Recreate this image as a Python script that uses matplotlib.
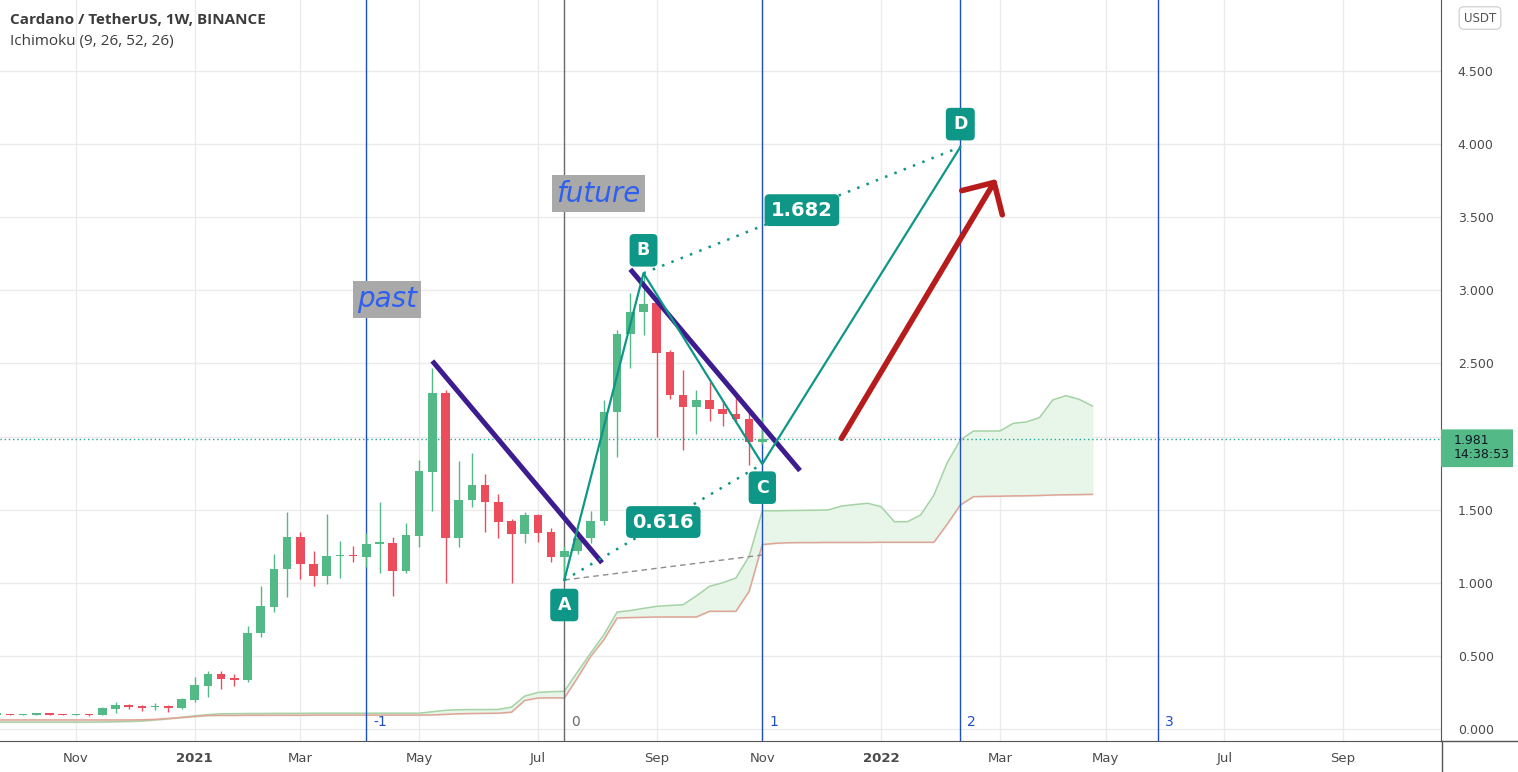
import numpy as np
import pandas as pd
import matplotlib
matplotlib.use('Agg')
import matplotlib.pyplot as plt
import matplotlib.dates as mdates
import matplotlib.patches as mpatches
from matplotlib.lines import Line2D
from matplotlib.transforms import blended_transform_factory

# ---- weekly candles ADA/USDT (Binance) ----
candle_dates = pd.date_range('2020-09-21', '2021-11-01', freq='7D')
opens = [0.098, 0.100, 0.096, 0.099, 0.100, 0.098, 0.096, 0.098, 0.096, 0.139,
         0.164, 0.157, 0.148, 0.157, 0.146, 0.198, 0.296, 0.376, 0.347, 0.335,
         0.654, 0.837, 1.096, 1.311, 1.126, 1.049, 1.180, 1.190, 1.178, 1.263,
         1.270, 1.083, 1.322, 1.760, 2.296, 1.308, 1.569, 1.671, 1.550, 1.420,
         1.331, 1.461, 1.347, 1.178, 1.219, 1.308, 1.420, 2.166, 2.699, 2.850,
         2.911, 2.577, 2.284, 2.200, 2.250, 2.186, 2.154, 2.118, 1.963]
highs = [0.102, 0.103, 0.104, 0.103, 0.106, 0.102, 0.101, 0.103, 0.150, 0.187,
         0.172, 0.162, 0.180, 0.163, 0.210, 0.358, 0.397, 0.399, 0.374, 0.706,
         0.978, 1.197, 1.482, 1.345, 1.217, 1.470, 1.286, 1.250, 1.343, 1.555,
         1.315, 1.411, 1.840, 2.467, 2.318, 1.833, 1.886, 1.742, 1.607, 1.434,
         1.486, 1.470, 1.373, 1.250, 1.338, 1.493, 2.250, 2.729, 2.980, 3.117,
         2.934, 2.592, 2.455, 2.318, 2.375, 2.250, 2.296, 2.182, 2.136]
lows = [0.094, 0.094, 0.094, 0.097, 0.095, 0.093, 0.094, 0.092, 0.094, 0.107,
        0.135, 0.125, 0.130, 0.118, 0.140, 0.187, 0.221, 0.274, 0.296, 0.324,
        0.630, 0.800, 0.900, 1.024, 0.978, 0.992, 1.031, 1.140, 1.110, 1.069,
        0.910, 1.070, 1.247, 1.493, 1.000, 1.243, 1.520, 1.350, 1.304, 0.996,
        1.274, 1.281, 1.144, 1.019, 1.195, 1.270, 1.395, 1.862, 2.467, 2.695,
        1.994, 2.255, 1.908, 2.017, 2.106, 2.072, 2.100, 1.805, 1.950]
closes = [0.100, 0.096, 0.099, 0.100, 0.098, 0.096, 0.098, 0.095, 0.142, 0.164,
          0.152, 0.146, 0.157, 0.146, 0.203, 0.300, 0.374, 0.342, 0.337, 0.654,
          0.841, 1.092, 1.311, 1.126, 1.049, 1.181, 1.190, 1.180, 1.265, 1.277,
          1.083, 1.327, 1.764, 2.296, 1.308, 1.569, 1.671, 1.550, 1.418, 1.331,
          1.461, 1.343, 1.178, 1.220, 1.308, 1.420, 2.166, 2.699, 2.850, 2.907,
          2.574, 2.282, 2.204, 2.250, 2.186, 2.152, 2.118, 1.963, 1.981]

# ---- Ichimoku cloud (leading spans, shifted 26 weeks) ----
cloud_dates = pd.date_range('2020-09-21', periods=84, freq='7D')
senkou_a = [0.047, 0.047, 0.047, 0.047, 0.047, 0.047, 0.047, 0.047,
            0.048, 0.050, 0.052, 0.055, 0.062, 0.070,
            0.080, 0.090, 0.098,
            0.104, 0.105, 0.106, 0.106, 0.107, 0.107, 0.107, 0.108,
            0.108, 0.108, 0.108, 0.108, 0.108, 0.108, 0.108, 0.108,
            0.118, 0.128, 0.132, 0.133, 0.133, 0.134,
            0.150, 0.225, 0.250, 0.255,
            0.258, 0.390, 0.520, 0.645, 0.800, 0.810, 0.825, 0.839,
            0.845, 0.850, 0.910, 0.976, 1.000, 1.033, 1.180, 1.493,
            1.492, 1.494, 1.495, 1.496, 1.498, 1.525, 1.535, 1.544, 1.520,
            1.418, 1.418, 1.464, 1.600, 1.820, 1.976, 2.038, 2.038, 2.038,
            2.090, 2.100, 2.130, 2.250, 2.280, 2.255, 2.209]
senkou_b = [0.062, 0.062, 0.062, 0.062, 0.062, 0.062, 0.062, 0.062,
            0.062, 0.062, 0.062, 0.063, 0.066, 0.072,
            0.078, 0.085, 0.092,
            0.093, 0.093, 0.094, 0.094, 0.094, 0.094, 0.094, 0.095,
            0.095, 0.095, 0.095, 0.095, 0.095, 0.095, 0.095, 0.095,
            0.096, 0.100, 0.104, 0.106, 0.107, 0.108,
            0.115, 0.195, 0.212, 0.213,
            0.212, 0.350, 0.497, 0.611, 0.759, 0.762, 0.764, 0.766,
            0.766, 0.766, 0.766, 0.805, 0.805, 0.805, 0.941, 1.261,
            1.270, 1.274, 1.275, 1.275, 1.276, 1.276, 1.276, 1.276, 1.277,
            1.277, 1.277, 1.277, 1.277, 1.400, 1.532, 1.589, 1.591, 1.592,
            1.594, 1.595, 1.597, 1.600, 1.602, 1.603, 1.605]

last_price = 1.981
countdown = '14:38:53'

# ---- drawings ----
abcd_labels = ['A', 'B', 'C', 'D']
abcd_dates = ['2021-07-19', '2021-08-30', '2021-11-01', '2022-02-14']
abcd_prices = [1.019, 3.117, 1.812, 3.980]
ratio_labels = ['0.616', '1.682']
dash_end = ('2021-11-01', 1.19)

fib_dates = ['2021-04-05', '2021-07-19', '2021-11-01', '2022-02-14', '2022-05-30']
fib_labels = ['-1', '0', '1', '2', '3']

trend_lines = [(('2021-05-10', 2.517), ('2021-08-08', 1.137)),
               (('2021-08-23', 3.144), ('2021-11-21', 1.767))]
arrow_start = ('2021-12-13', 1.988)
arrow_end = ('2022-03-05', 3.761)

notes = [('past', '2021-04-16', 2.94), ('future', '2021-08-06', 3.66)]

month_ticks = ['2020-11-02', '2021-01-04', '2021-03-01', '2021-05-03', '2021-07-05',
               '2021-09-06', '2021-11-01', '2022-01-03', '2022-03-07', '2022-05-02',
               '2022-07-04', '2022-09-05']
month_labels = ['Nov', '2021', 'Mar', 'May', 'Jul', 'Sep', 'Nov', '2022', 'Mar',
                'May', 'Jul', 'Sep']
price_ticks = [0.0, 0.5, 1.0, 1.5, 2.5, 3.0, 3.5, 4.0, 4.5]
grid_prices = [0.0, 0.5, 1.0, 1.5, 2.0, 2.5, 3.0, 3.5, 4.0, 4.5]

UP, DOWN = '#53b987', '#eb4d5c'
TEAL = '#0e9786'
PURPLE = '#3d1c8f'
FIB_BLUE = '#1f4fc4'
TXT = '#4a4a4a'


def d(s):
    return mdates.date2num(pd.Timestamp(s))


W, H = 1518, 772
fig = plt.figure(figsize=(W / 100, H / 100), dpi=100)
ax = fig.add_axes([0, 31 / H, 1441 / W, 1 - 31 / H])

base = d('2021-11-01')
wk = 13.2 / 7.0   # pixels per day
ax.set_xlim(base - 762.3 / wk, base + (1441 - 762.3) / wk)
ax.set_ylim((729 - 741) / 146.22, 729 / 146.22)

# grid
for p in grid_prices:
    ax.axhline(p, color='#ebebeb', lw=1, zorder=0)
for m in month_ticks:
    ax.axvline(d(m), color='#ebebeb', lw=1, zorder=0)

# cloud
cx = mdates.date2num(cloud_dates)
sa = np.array(senkou_a)
sb = np.array(senkou_b)
ax.fill_between(cx, sa, sb, where=sa >= sb, interpolate=True,
                color='#e8f5e9', zorder=1)
ax.fill_between(cx, sa, sb, where=sa < sb, interpolate=True,
                color='#f8e6e3', zorder=1)
ax.plot(cx, sa, color='#a5d3a6', lw=1.1, zorder=2)
ax.plot(cx, sb, color='#e0a497', lw=1.1, zorder=2)

# candles
x = mdates.date2num(candle_dates)
o = np.array(opens); c = np.array(closes)
hi = np.array(highs); lo = np.array(lows)
cols = np.where(c >= o, UP, DOWN)
ax.vlines(x, lo, hi, colors=cols, lw=1.0, zorder=3)
ax.bar(x, np.maximum(np.abs(c - o), 0.01), bottom=np.minimum(o, c),
       width=4.6, color=cols, zorder=4)

# last price line
ax.axhline(last_price, color='#26a69a', lw=1, ls=(0, (1, 2)), zorder=2)

# fib time zones
ytr = blended_transform_factory(ax.transData, ax.transAxes)
for fd, fl in zip(fib_dates, fib_labels):
    col = '#6a6a6a' if fl == '0' else FIB_BLUE
    ax.axvline(d(fd), color=col, lw=1, zorder=2)
    ax.annotate(fl, xy=(d(fd), 0.026), xycoords=ytr, xytext=(5, 0),
                textcoords='offset points', ha='left', va='center',
                fontsize=10, color=col)

# trend lines
for (d0, p0), (d1, p1) in trend_lines:
    ax.plot([d(d0), d(d1)], [p0, p1], color=PURPLE, lw=3.6,
            solid_capstyle='butt', zorder=6)

# ABCD pattern
px = [d(s) for s in abcd_dates]
ax.plot(px, abcd_prices, color=TEAL, lw=1.6, zorder=7)
ax.plot([px[0], d(dash_end[0])], [abcd_prices[0], dash_end[1]],
        color='#8c8c8c', lw=1, ls=(0, (4, 3)), zorder=5)
for i, j, lbl in [(0, 2, ratio_labels[0]), (1, 3, ratio_labels[1])]:
    ax.plot([px[i], px[j]], [abcd_prices[i], abcd_prices[j]], color=TEAL,
            lw=1.8, ls=(0, (1, 3)), zorder=7)
    ax.text((px[i] + px[j]) / 2, (abcd_prices[i] + abcd_prices[j]) / 2, lbl,
            ha='center', va='center', fontsize=14, fontweight='bold',
            color='white', zorder=9,
            bbox=dict(boxstyle='round,pad=0.33,rounding_size=0.25',
                      fc=TEAL, ec='none'))
offsets = [-18, 16.5, -17, 16.5]
for lbl, xx, yy, off in zip(abcd_labels, px, abcd_prices, offsets):
    ax.annotate(lbl, xy=(xx, yy), xytext=(0, off), textcoords='offset points',
                ha='center', va='center', fontsize=12.5, fontweight='bold',
                color='white', zorder=9,
                bbox=dict(boxstyle='round,pad=0.42,rounding_size=0.25',
                          fc=TEAL, ec='none'))

# red arrow
ax.annotate('', xy=(d(arrow_end[0]), arrow_end[1]),
            xytext=(d(arrow_start[0]), arrow_start[1]),
            arrowprops=dict(arrowstyle='->,head_length=1,head_width=1',
                            lw=4, color='#b71c1c', mutation_scale=17,
                            shrinkA=0, shrinkB=0), zorder=8)

# notes
for txt, nd, npx in notes:
    ax.text(d(nd), npx, txt, ha='center', va='center', fontsize=20,
            style='italic', color='#2f5ff0', zorder=9,
            bbox=dict(boxstyle='square,pad=0.16', fc='#a9a9a9', ec='none'))

# axes styling
ax.set_xticks([d(m) for m in month_ticks])
ax.set_xticklabels(month_labels)
for t in ax.get_xticklabels():
    if t.get_text() in ('2021', '2022'):
        t.set_fontweight('bold')
ax.tick_params(axis='x', length=0, pad=8, labelsize=9.5, labelcolor=TXT)
ax.yaxis.tick_right()
ax.set_yticks(price_ticks)
ax.set_yticklabels([f'{p:.3f}' for p in price_ticks])
ax.tick_params(axis='y', length=0, pad=12, labelsize=9, labelcolor=TXT)
for s in ('top', 'left'):
    ax.spines[s].set_visible(False)
ax.spines['right'].set_color('#555555')
ax.spines['bottom'].set_color('#555555')
fig.add_artist(Line2D([1441 / W, 1], [31 / H, 31 / H], color='#555555', lw=1))
fig.add_artist(Line2D([1441.5 / W, 1441.5 / W], [0, 31 / H], color='#555555', lw=1))

# last price tag on the axis
ptr = blended_transform_factory(ax.transAxes, ax.transData)
ax.add_patch(mpatches.FancyBboxPatch((1.0, last_price - 0.19), 72 / 1441, 0.258,
                                     boxstyle='round,pad=0,rounding_size=0.002',
                                     transform=ptr, fc='#53b987', ec='none',
                                     clip_on=False, zorder=10))
ax.text(1454 / 1441, last_price - 0.005, f'{last_price:.3f}', transform=ptr,
        ha='left', va='center', fontsize=9, color='#131722', clip_on=False, zorder=11)
ax.text(1454 / 1441, last_price - 0.107, countdown, transform=ptr,
        ha='left', va='center', fontsize=9, color='#131722', clip_on=False, zorder=11)

# headers
fig.text(10 / W, 1 - 20 / H, 'Cardano / TetherUS, 1W, BINANCE', ha='left',
         va='center', fontsize=11, fontweight='bold', color='#3c3c3c',
         family='Open Sans')
fig.text(10 / W, 1 - 41 / H, 'Ichimoku (9, 26, 52, 26)', ha='left',
         va='center', fontsize=11, color='#3c3c3c', family='Open Sans')
fig.text(1480 / W, 1 - 18 / H, 'USDT', ha='center', va='center', fontsize=8.5,
         color='#555555',
         bbox=dict(boxstyle='round,pad=0.4,rounding_size=0.4', fc='white',
                   ec='#d5d5d5', lw=1))

fig.savefig('out.png', dpi=100)
